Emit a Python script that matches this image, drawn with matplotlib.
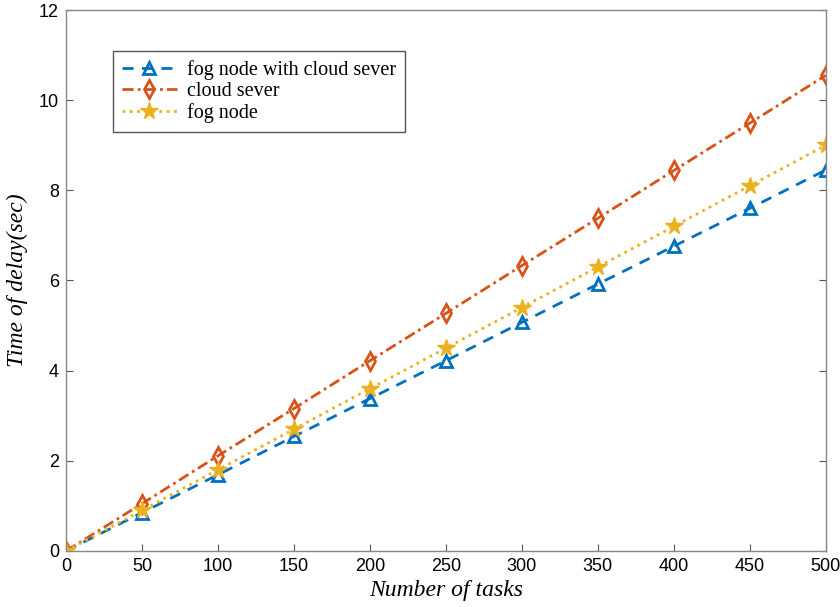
#!/usr/bin/env python3
"""Delay vs number of tasks for fog / cloud configurations."""

import matplotlib
matplotlib.use("Agg")
import matplotlib.pyplot as plt

tasks = [0, 50, 100, 150, 200, 250, 300, 350, 400, 450, 500]
fog_with_cloud = [0, 0.85, 1.69, 2.54, 3.38, 4.22, 5.07, 5.92, 6.76, 7.6, 8.45]
cloud_server = [0, 1.05, 2.11, 3.16, 4.22, 5.27, 6.33, 7.38, 8.44, 9.49, 10.55]
fog_node = [0, 0.9, 1.8, 2.7, 3.6, 4.5, 5.4, 6.3, 7.2, 8.1, 9.0]

labels = ["fog node with cloud sever", "cloud sever", "fog node"]
x_ticks = list(range(0, 501, 50))
y_ticks = list(range(0, 13, 2))

blue, orange, yellow = "#0072BD", "#D95319", "#EDB120"

fig = plt.figure(figsize=(8.4, 6.07), dpi=100)
ax = fig.add_axes([0.0786, 0.0923, 0.9044, 0.8912])

ax.plot(tasks, fog_with_cloud, linestyle="--", color=blue, lw=2, marker="^",
        ms=8, mew=2, mfc="none", label=labels[0], dashes=(4, 3))
ax.plot(tasks, cloud_server, linestyle="-.", color=orange, lw=2, marker="d",
        ms=9, mew=2, mfc="none", label=labels[1], dashes=(4, 1.5, 1, 1.5))
ax.plot(tasks, fog_node, linestyle=":", color=yellow, lw=2, marker="*",
        ms=13, mew=1, label=labels[2])

ax.set_xlim(0, 500)
ax.set_ylim(0, 12)
ax.set_xticks(x_ticks)
ax.set_yticks(y_ticks)
ax.tick_params(direction="in", length=5, color="#555555", labelsize=13,
               top=False, right=True, labeltop=False, labelright=False,
               pad=5)
for lab in ax.get_xticklabels() + ax.get_yticklabels():
    lab.set_fontfamily("Liberation Sans")
for s in ax.spines.values():
    s.set_color("#888888")
    s.set_linewidth(1.0)

ax.set_xlabel("Number of tasks", fontfamily="Liberation Serif",
              style="italic", fontsize=17, labelpad=4)
ax.set_ylabel("Time of delay(sec)", fontfamily="Liberation Serif",
              style="italic", fontsize=17, labelpad=8)

leg = ax.legend(loc="upper left", bbox_to_anchor=(0.062, 0.925),
                borderaxespad=0,
                prop={"family": "Liberation Serif", "size": 14.5},
                fancybox=False, framealpha=1, edgecolor="#555555",
                handlelength=2.7, borderpad=0.45, labelspacing=0.12,
                handletextpad=0.5)
leg.get_frame().set_linewidth(1.0)

fig.savefig("out.png", dpi=100)
